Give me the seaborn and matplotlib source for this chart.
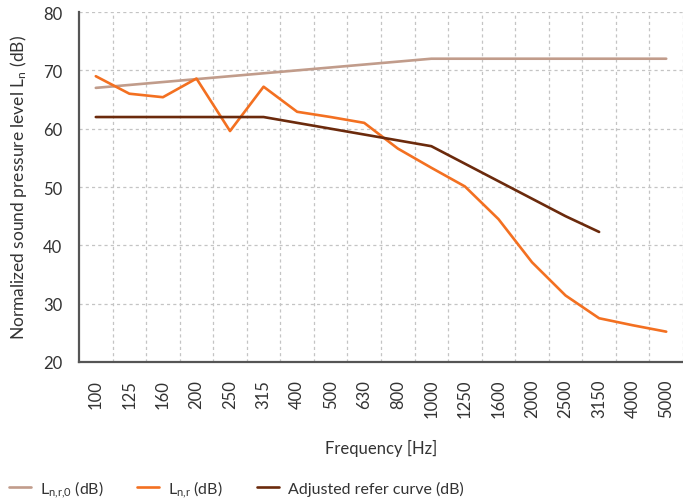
import matplotlib
matplotlib.use("Agg")
import matplotlib.pyplot as plt
from matplotlib.ticker import FixedLocator
import seaborn as sns
import numpy as np
import pandas as pd

frequencies = ["100", "125", "160", "200", "250", "315", "400", "500", "630",
               "800", "1000", "1250", "1600", "2000", "2500", "3150", "4000", "5000"]

ln_r0 = [67.0, 67.5, 68.0, 68.5, 69.0, 69.5, 70.0, 70.5, 71.0, 71.5,
         72.0, 72.0, 72.0, 72.0, 72.0, 72.0, 72.0, 72.0]
ln_r = [69.0, 66.0, 65.4, 68.6, 59.6, 67.2, 62.9, 62.0, 61.0, 56.6,
        53.3, 50.1, 44.5, 37.1, 31.4, 27.5, 26.3, 25.2]
adjusted = [62.0, 62.0, 62.0, 62.0, 62.0, 62.0, 61.0, 60.0, 59.0, 58.0,
            57.0, 54.0, 51.0, 48.0, 45.0, 42.3, np.nan, np.nan]

labels = [r"$\mathregular{L_{n{,}r{,}0}}$ (dB)", r"$\mathregular{L_{n{,}r}}$ (dB)",
          "Adjusted refer curve (dB)"]
colors = ["#c19c8b", "#f37021", "#6b2a0c"]

pos = list(range(len(frequencies)))
df = pd.concat([
    pd.DataFrame({"pos": pos, "value": vals, "series": lab})
    for vals, lab in zip([ln_r0, ln_r, adjusted], labels)
]).dropna()

sns.set_theme(style="white")
plt.rcParams["font.family"] = ["Lato", "DejaVu Sans"]
plt.rcParams["mathtext.fontset"] = "custom"
plt.rcParams["mathtext.rm"] = "Lato"
text_color = "#333333"
fs = 12

fig = plt.figure(figsize=(6.83, 5.02), dpi=100)
ax = fig.add_axes([0.1157, 0.2769, 0.8843, 0.6971])

sns.lineplot(data=df, x="pos", y="value", hue="series", hue_order=labels,
             palette=colors, linewidth=1.9, sort=False, ax=ax, legend=True)

ax.set_xlim(-0.5, len(frequencies) - 0.5)
ax.set_ylim(20, 80)
ax.set_xticks(pos)
ax.set_xticklabels(frequencies, rotation=90)
ax.xaxis.set_minor_locator(FixedLocator(np.arange(0.5, len(frequencies), 1.0)))
ax.set_yticks(range(20, 81, 10))

ax.grid(False)
ax.grid(axis="x", which="minor", linestyle=(0, (2.5, 2.5)), color="#c4c4c4", linewidth=0.9)
ax.grid(axis="y", which="major", linestyle=(0, (2.5, 2.5)), color="#c4c4c4", linewidth=0.9)
ax.tick_params(axis="both", which="both", length=0, labelsize=fs,
               colors=text_color, pad=12)

for side in ["top", "right"]:
    ax.spines[side].set_visible(False)
for side in ["left", "bottom"]:
    ax.spines[side].set_color("#555555")
    ax.spines[side].set_linewidth(1.6)

ax.set_xlabel("Frequency [Hz]", fontsize=fs, color=text_color, labelpad=16)
ax.set_ylabel(r"Normalized sound pressure level $\mathregular{L_n}$ (dB)",
              fontsize=12.5, color=text_color, labelpad=10)

handles, _ = ax.get_legend_handles_labels()
ax.legend(handles=handles, labels=labels, loc="lower left",
          bbox_to_anchor=(0.009, 0.0), bbox_transform=fig.transFigure,
          ncol=3, frameon=False, fontsize=11.5, handlelength=1.4,
          handletextpad=0.55, columnspacing=2.1, labelcolor=text_color,
          borderaxespad=0.0, borderpad=0.15)

fig.savefig("out.png", dpi=100)
